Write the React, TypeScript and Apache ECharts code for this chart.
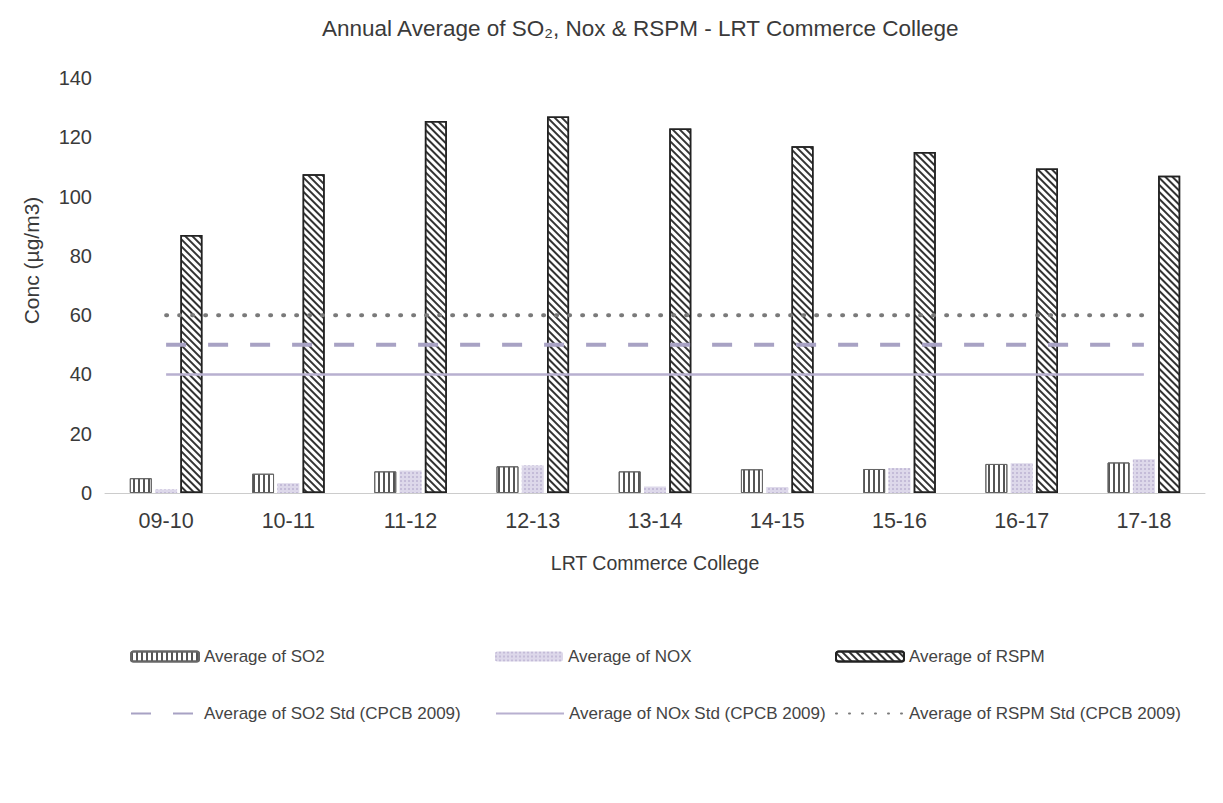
import React, { useEffect, useRef } from "react";
import * as echarts from "echarts";

const categories = ["09-10", "10-11", "11-12", "12-13", "13-14", "14-15", "15-16", "16-17", "17-18"];
const so2Values = [5, 6.5, 7.3, 9, 7.3, 8, 8.1, 9.8, 10.3];
const noxValues = [1.2, 3.3, 7.6, 9.3, 2.2, 2, 8.4, 10, 11.4];
const rspmValues = [87, 107.5, 125.5, 127, 123, 117, 115, 109.5, 107];
const so2Std = [50, 50, 50, 50, 50, 50, 50, 50, 50];
const noxStd = [40, 40, 40, 40, 40, 40, 40, 40, 40];
const rspmStd = [60, 60, 60, 60, 60, 60, 60, 60, 60];

const FONT = "'Liberation Sans', Arial, sans-serif";
const TXT = "#3a3a3a";

export default function App() {
  const ref = useRef<HTMLDivElement>(null);
  useEffect(() => {
    if (!ref.current) return;
    const chart = echarts.init(ref.current, undefined, { renderer: "svg" });
    const legendText = { fontFamily: FONT, fontSize: 17, color: "#444" };
    const mkLegend = (name: string, left: number, top: number, isLine: boolean) => ({
      data: [name],
      left,
      top,
      itemWidth: 68,
      itemHeight: 10,
      itemGap: 4,
      textStyle: legendText,
      ...(isLine ? { itemStyle: { opacity: 0 } } : {}),
    });
    chart.setOption({
      animation: false,
      backgroundColor: "#fff",
      textStyle: { fontFamily: FONT },
      title: {
        text: "Annual Average of SO₂, Nox & RSPM - LRT Commerce College",
        left: 309,
        top: 4,
        textStyle: { fontFamily: FONT, fontSize: 22.5, fontWeight: "normal", color: TXT },
      },
      legend: [
        mkLegend("Average of SO2", 117, 635, false),
        mkLegend("Average of NOX", 482, 635, false),
        mkLegend("Average of RSPM", 822, 635, false),
        mkLegend("Average of SO2 Std (CPCB 2009)", 117, 692, true),
        mkLegend("Average of NOx Std (CPCB 2009)", 482, 692, true),
        mkLegend("Average of RSPM Std (CPCB 2009)", 822, 692, true),
      ],
      grid: { left: 97, right: 10, top: 70, bottom: 302 },
      xAxis: {
        type: "category",
        data: categories,
        name: "LRT Commerce College",
        nameLocation: "middle",
        nameGap: 60,
        nameTextStyle: { fontFamily: FONT, fontSize: 19.5, color: TXT },
        axisLine: { show: true, lineStyle: { color: "#ccc", width: 1 } },
        axisTick: { show: false },
        axisLabel: { fontFamily: FONT, fontSize: 21.5, color: TXT, margin: 17 },
      },
      yAxis: {
        type: "value",
        min: 0,
        max: 140,
        interval: 20,
        name: "Conc (µg/m3)",
        nameLocation: "middle",
        nameGap: 63,
        nameTextStyle: { fontFamily: FONT, fontSize: 21, color: TXT, padding: [0, 0, 0, 50] },
        axisLine: { show: false },
        axisTick: { show: false },
        splitLine: { show: false },
        axisLabel: { fontFamily: FONT, fontSize: 20, color: TXT, margin: 13 },
      },
      series: [
        {
          name: "Average of SO2",
          type: "bar",
          data: so2Values,
          barWidth: 22,
          barGap: "15%",
          itemStyle: {
            color: "#ffffff",
            borderColor: "#666",
            borderWidth: 1,
            decal: {
              symbol: "rect",
              symbolSize: 1,
              dashArrayX: [2, 3],
              dashArrayY: [1, 0],
              color: "#555",
              backgroundColor: "#fff",
            },
          },
        },
        {
          name: "Average of NOX",
          type: "bar",
          data: noxValues,
          barWidth: 22,
          barGap: "15%",
          itemStyle: {
            color: "#ddd8ea",
            decal: {
              symbol: "rect",
              symbolSize: 1,
              dashArrayX: [2, 2],
              dashArrayY: [2, 2],
              color: "#c4bcd8",
              backgroundColor: "#ebe8f2",
            },
          },
        },
        {
          name: "Average of RSPM",
          type: "bar",
          data: rspmValues,
          barWidth: 22,
          barGap: "15%",
          itemStyle: {
            color: "#ffffff",
            borderColor: "#222",
            borderWidth: 1.5,
            decal: {
              symbol: "rect",
              symbolSize: 1,
              dashArrayX: [1, 0],
              dashArrayY: [2, 3],
              rotation: Math.PI / 4,
              color: "#333",
              backgroundColor: "#fff",
            },
          },
        },
        {
          name: "Average of SO2 Std (CPCB 2009)",
          type: "line",
          data: so2Std,
          symbol: "none",
          z: 5,
          itemStyle: { color: "#a8a2c4" },
          lineStyle: { color: "#a8a2c4", width: 4, type: [20, 22] },
        },
        {
          name: "Average of NOx Std (CPCB 2009)",
          type: "line",
          data: noxStd,
          symbol: "none",
          z: 5,
          itemStyle: { color: "#b8b0d0" },
          lineStyle: { color: "#b8b0d0", width: 2.5 },
        },
        {
          name: "Average of RSPM Std (CPCB 2009)",
          type: "line",
          data: rspmStd,
          symbol: "none",
          z: 5,
          itemStyle: { color: "#7a7a7a" },
          lineStyle: { color: "#7a7a7a", width: 4, type: [1, 12], cap: "round" },
        },
      ],
    });
    return () => chart.dispose();
  }, []);
  return <div ref={ref} style={{ width: 1207, height: 787 }} />;
}
